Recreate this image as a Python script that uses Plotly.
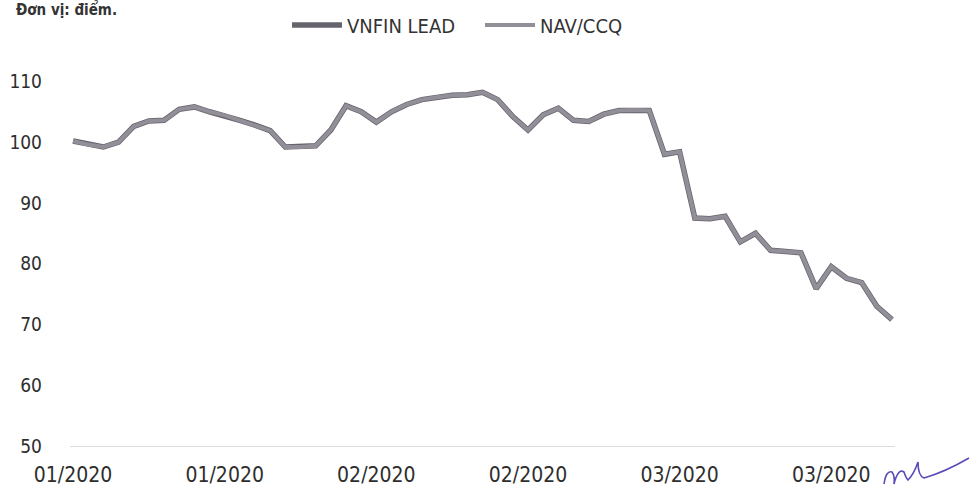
import plotly.graph_objects as go

# ---- data ----
dates = [
    "02/01/2020", "03/01/2020", "06/01/2020", "07/01/2020", "08/01/2020", "09/01/2020", "10/01/2020",
    "13/01/2020", "14/01/2020", "15/01/2020", "16/01/2020", "17/01/2020", "20/01/2020", "21/01/2020",
    "22/01/2020", "30/01/2020", "31/01/2020",
    "03/02/2020", "04/02/2020", "05/02/2020", "06/02/2020", "07/02/2020", "10/02/2020", "11/02/2020",
    "12/02/2020", "13/02/2020", "14/02/2020", "17/02/2020", "18/02/2020", "19/02/2020", "20/02/2020",
    "21/02/2020", "24/02/2020", "25/02/2020", "26/02/2020", "27/02/2020", "28/02/2020",
    "02/03/2020", "03/03/2020", "04/03/2020", "05/03/2020", "06/03/2020", "09/03/2020", "10/03/2020",
    "11/03/2020", "12/03/2020", "13/03/2020", "16/03/2020", "17/03/2020", "18/03/2020", "19/03/2020",
    "20/03/2020", "23/03/2020", "24/03/2020", "25/03/2020",
]
vnfin_lead = [
    100.2, 99.6, 99.2, 100.0, 102.6, 103.5, 103.6, 105.4, 105.8, 105.0,
    104.4, 103.6, 102.8, 101.9, 99.2, 99.2, 99.4, 102.0, 106.0, 105.0,
    103.3, 105.0, 106.2, 107.0, 107.4, 107.7, 107.8, 108.2, 107.0, 104.2,
    102.0, 104.5, 105.6, 103.6, 103.4, 104.6, 105.2, 105.3, 105.2, 98.0,
    98.4, 87.5, 87.4, 87.8, 83.6, 85.0, 82.2, 82.0, 81.8, 75.9,
    79.5, 77.6, 76.9, 73.0, 70.8,
]
nav_ccq = [
    100.2, 99.6, 99.2, 100.0, 102.6, 103.5, 103.6, 105.4, 105.8, 105.0,
    104.4, 103.6, 102.8, 101.9, 99.2, 99.2, 99.4, 102.0, 106.0, 105.0,
    103.3, 105.0, 106.2, 107.0, 107.4, 107.7, 107.8, 108.2, 107.0, 104.2,
    102.0, 104.5, 105.6, 103.6, 103.4, 104.6, 105.2, 105.3, 105.2, 98.0,
    98.4, 87.5, 87.4, 87.8, 83.6, 85.0, 82.2, 82.0, 81.8, 75.9,
    79.5, 77.6, 76.9, 73.0, 70.8,
]
y_ticks = [50, 60, 70, 80, 90, 100, 110]
tick_every = 10
x_ticktext = [d[3:] for d in dates[::tick_every]]
x_tickvals = dates[::tick_every]

W, H = 971, 488
ML, MR, MT, MB = 70, 76, 51, 42
PW, PH = W - ML - MR, H - MT - MB
FONT = "Liberation Sans Narrow, Arial Narrow, DejaVu Sans Condensed, Liberation Sans"

def px2paper(x, y):
    return (x - ML) / PW, (H - MB - y) / PH

fig = go.Figure()
fig.add_trace(go.Scatter(
    x=dates, y=vnfin_lead, mode="lines", name="VNFIN LEAD",
    line=dict(color="#67636d", width=5.5),
))
fig.add_trace(go.Scatter(
    x=dates, y=nav_ccq, mode="lines", name="NAV/CCQ",
    line=dict(color="#938f99", width=4),
))

# signature scribble (decoration)
def P(x, y):
    a, b = px2paper(x, y)
    return f"{a:.4f},{b:.4f}"

path = (f"M {P(884, 484)} Q {P(886, 470)} {P(892, 472)} Q {P(895, 476)} {P(894, 484)} "
        f"Q {P(898, 468)} {P(904, 472)} Q {P(906, 478)} {P(908, 480)} "
        f"Q {P(914, 474)} {P(918, 462)} Q {P(918, 476)} {P(924, 478)} "
        f"Q {P(945, 472)} {P(969, 458)}")
fig.add_shape(type="path", path=path, xref="paper", yref="paper",
              line=dict(color="#5b4bb8", width=1.6))

ax, ay = px2paper(14, 9)
fig.add_annotation(text="<b>Đơn vị: điểm.</b>", xref="paper", yref="paper", x=ax, y=ay,
                   xanchor="left", yanchor="middle", showarrow=False,
                   font=dict(family=FONT, size=15, color="#333333"))

lx, ly = px2paper(287, 25)
fig.update_layout(
    width=W, height=H,
    margin=dict(l=ML, r=MR, t=MT, b=MB, autoexpand=False),
    paper_bgcolor="white", plot_bgcolor="white",
    font=dict(family=FONT, color="#2e2e2e", size=20),
    showlegend=True,
    legend=dict(orientation="h", x=lx, y=ly, xanchor="left", yanchor="middle",
                font=dict(size=20, color="#333333"), itemwidth=50, entrywidth=128,
                bgcolor="rgba(0,0,0,0)"),
    xaxis=dict(type="category", range=[-0.2, len(dates) - 0.8],
               tickvals=x_tickvals, ticktext=x_ticktext,
               showgrid=False, zeroline=False, showline=True, linecolor="#dcdcdc", linewidth=1,
               ticks="", ticklabelstandoff=10, tickfont=dict(size=21, color="#2e2e2e")),
    yaxis=dict(range=[50, 115], tickvals=y_ticks, showgrid=False, zeroline=False,
               showline=False, ticks="", ticklabelstandoff=27,
               tickfont=dict(size=19, color="#2e2e2e")),
)

fig.write_html("out.html", config={"displayModeBar": False},
               post_script="document.body.style.margin='0';document.body.style.overflow='hidden';")
